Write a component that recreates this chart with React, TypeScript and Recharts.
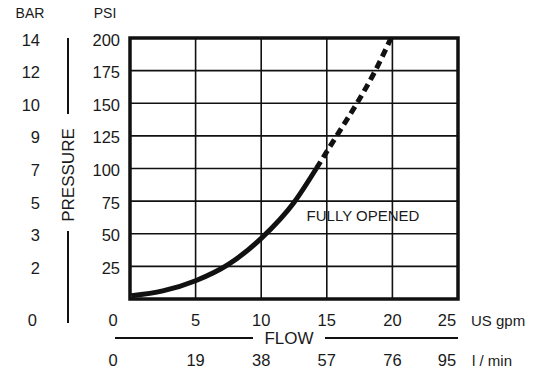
import React from 'react'
import { LineChart, Line, XAxis, YAxis, CartesianGrid, ReferenceArea } from 'recharts'

// flow in US gpm, pressure in psi
const gpmTicks = [0, 5, 10, 15, 20, 25]
const lminTicks = [0, 19, 38, 57, 76, 95]
const psiTicks = [0, 25, 50, 75, 100, 125, 150, 175, 200]
const barTicks = [0, 2, 3, 5, 7, 9, 10, 12, 14]

const solidFlow = [0.1, 2.5, 5, 7.5, 10, 12.5, 14.2]
const solidPsi = [2.5, 6.2, 14, 26.5, 46.5, 74, 100]
const dashedFlow = [14.2, 15.75, 17.3, 18.7, 19.9]
const dashedPsi = [100, 125, 150, 175, 200]

const FONT = '"Liberation Sans", Arial, Helvetica, sans-serif'
const INK = '#1a1a1a'

const data = [
  ...solidFlow.map((f, i) => ({ flow: f, solid: solidPsi[i], dashed: i === solidFlow.length - 1 ? solidPsi[i] : null })),
  ...dashedFlow.slice(1).map((f, i) => ({ flow: f, solid: null, dashed: dashedPsi[i + 1] })),
]

function XTick(props: any) {
  const { x, y, payload, index } = props
  const last = gpmTicks.length - 1
  const dx = index === 0 ? -17 : index === last ? -11 : 0
  return (
    <g fontFamily={FONT} fill={INK} fontSize={16.5}>
      <text x={x + dx} y={y + 21} textAnchor="middle" dominantBaseline="central">{payload.value}</text>
      <text x={x + dx} y={y + 61} textAnchor="middle" dominantBaseline="central">{lminTicks[index]}</text>
    </g>
  )
}

function YTick(props: any) {
  const { x, y, payload } = props
  const i = psiTicks.indexOf(payload.value)
  if (payload.value === 0) {
    return (
      <text x={x - 93} y={y + 21} textAnchor="end" dominantBaseline="central" fontFamily={FONT} fontSize={16.5} fill={INK}>
        {barTicks[i]}
      </text>
    )
  }
  return (
    <g fontFamily={FONT} fill={INK} fontSize={16.5}>
      <text x={x - 10} y={y + 1.5} textAnchor="end" dominantBaseline="central">{payload.value}</text>
      <text x={x - 90} y={y + 1.5} textAnchor="end" dominantBaseline="central">{barTicks[i]}</text>
    </g>
  )
}

export default function App() {
  return (
    <div style={{ position: 'absolute', left: 0, top: 0, width: 542, height: 373, background: '#fff' }}>
      <LineChart width={542} height={373} data={data} margin={{ top: 38, right: 84, left: 0, bottom: 0 }}>
        <CartesianGrid stroke="#111" strokeWidth={1.6} strokeOpacity={1} />
        <XAxis
          dataKey="flow"
          type="number"
          domain={[0, 25]}
          ticks={gpmTicks}
          height={74}
          tickSize={0}
          tickMargin={0}
          axisLine={false}
          tickLine={false}
          tick={<XTick />}
          interval={0}
        />
        <YAxis
          type="number"
          domain={[0, 200]}
          ticks={psiTicks}
          width={130}
          tickSize={0}
          tickMargin={0}
          axisLine={false}
          tickLine={false}
          tick={<YTick />}
          interval={0}
        />
        <ReferenceArea x1={0} x2={25} y1={0} y2={200} fill="none" stroke="#111" strokeWidth={3.5} ifOverflow="visible" />
        <Line type="monotone" dataKey="solid" stroke="#111" strokeWidth={5} dot={false} isAnimationActive={false} connectNulls={false} />
        <Line type="monotone" dataKey="dashed" stroke="#111" strokeWidth={5} strokeDasharray="8 5" dot={false} isAnimationActive={false} connectNulls={false} />
      </LineChart>
      <svg width={542} height={373} style={{ position: 'absolute', left: 0, top: 0, pointerEvents: 'none' }}>
        <g fontFamily={FONT} fill={INK}>
          <text x={30} y={13} fontSize={14} textAnchor="middle" dominantBaseline="central">BAR</text>
          <text x={105} y={13} fontSize={14} textAnchor="middle" dominantBaseline="central">PSI</text>
          <text x={68} y={175} fontSize={17} textAnchor="middle" dominantBaseline="central" transform="rotate(-90 68 175)">PRESSURE</text>
          <text x={289} y={338} fontSize={17} textAnchor="middle" dominantBaseline="central">FLOW</text>
          <text x={471} y={320} fontSize={15} dominantBaseline="central">US gpm</text>
          <text x={472} y={360} fontSize={15} dominantBaseline="central">l / min</text>
          <text x={363} y={215} fontSize={15} textAnchor="middle" dominantBaseline="central">FULLY OPENED</text>
        </g>
        <g stroke="#111" strokeWidth={2}>
          <line x1={68} y1={38} x2={68} y2={114} />
          <line x1={68} y1={231} x2={68} y2={323} />
          <line x1={115} y1={338} x2={253} y2={338} />
          <line x1={325} y1={338} x2={458} y2={338} />
        </g>
      </svg>
    </div>
  )
}
